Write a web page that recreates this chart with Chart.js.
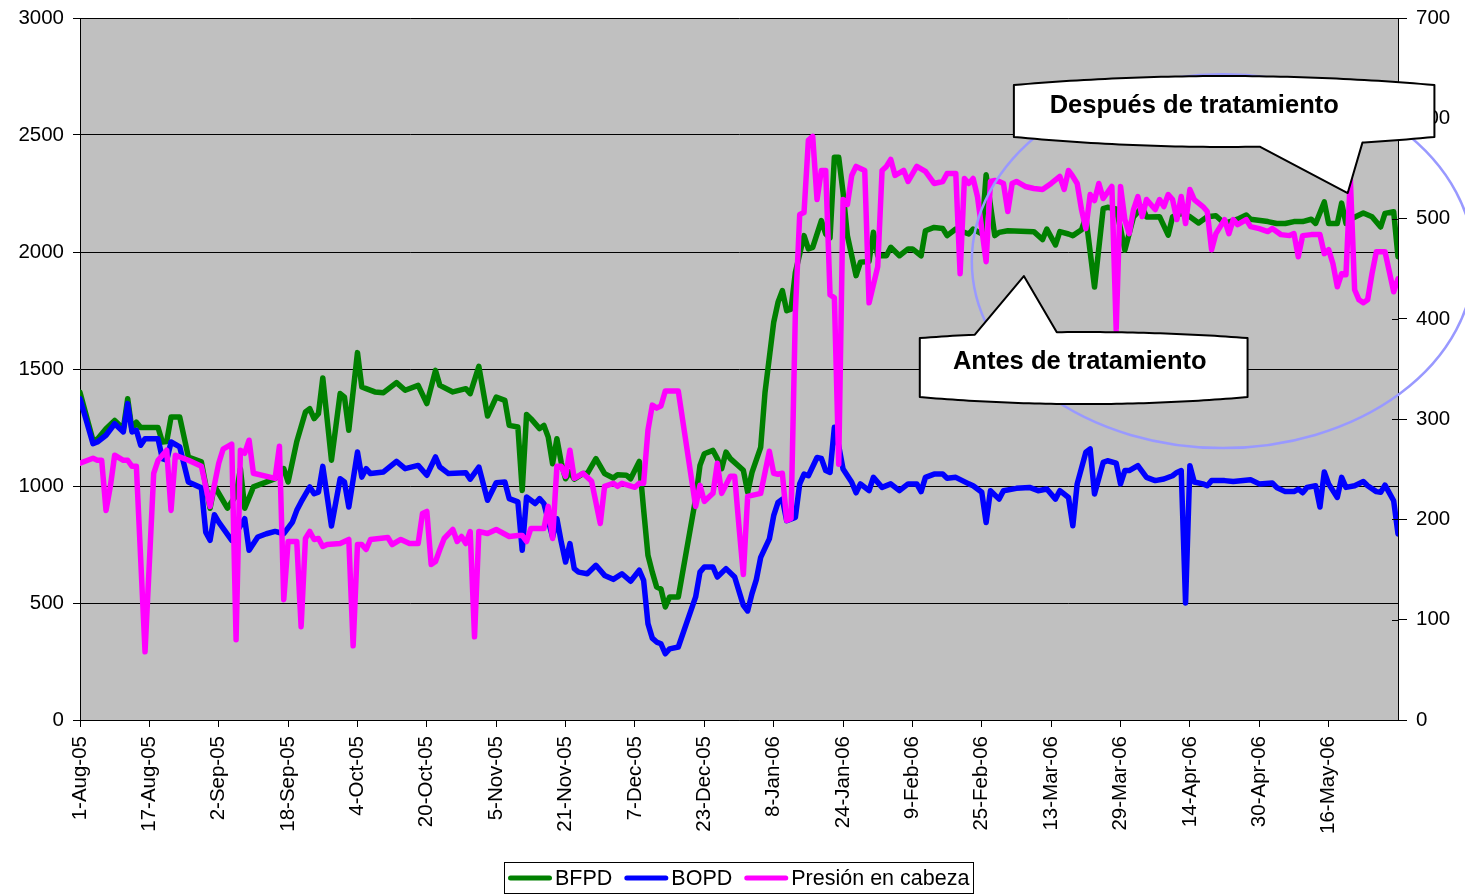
<!DOCTYPE html>
<html>
<head>
<meta charset="utf-8">
<title>BFPD, BOPD y Presión en cabeza</title>
<script src="https://cdn.jsdelivr.net/npm/chart.js@4.4.1/dist/chart.umd.min.js"></script>
<style>
  html, body { margin: 0; padding: 0; background: #ffffff; }
  #wrap { width: 1465px; height: 895px; }
</style>
</head>
<body>
<div id="wrap"><canvas id="chart" width="1465" height="895"></canvas></div>
<script>
// Date ticks, one every 16 days starting 1-Aug-05
const xTickLabels = ['1-Aug-05', '17-Aug-05', '2-Sep-05', '18-Sep-05', '4-Oct-05', '20-Oct-05',
  '5-Nov-05', '21-Nov-05', '7-Dec-05', '23-Dec-05', '8-Jan-06', '24-Jan-06', '9-Feb-06',
  '25-Feb-06', '13-Mar-06', '29-Mar-06', '14-Apr-06', '30-Apr-06', '16-May-06'];
const tickStepDays = 16;
const lastDay = 304;

// BFPD (barrels of fluid per day), days counted from 1-Aug-05
const bfpdDays = [0, 3, 4, 6, 8, 10, 11, 12, 13, 14, 18, 19, 20, 21, 23, 25, 28, 30, 31, 34,
  36, 37, 38, 40, 42, 45, 47, 48, 50, 52, 53, 54, 55, 56, 58, 60, 61, 62, 64, 65,
  66, 68, 70, 73, 75, 78, 80, 82, 83, 86, 89, 90, 92, 94, 96, 98, 99, 101, 102, 103,
  104, 106, 107, 108, 109, 110, 111, 112, 113, 114, 116, 117, 119, 121, 123, 124, 126, 127, 129, 130,
  131, 132, 133, 134, 135, 136, 138, 142, 143, 144, 146, 147, 148, 149, 150, 153, 154, 155, 157, 158,
  160, 161, 162, 163, 164, 165, 167, 168, 169, 171, 172, 173, 174, 175, 176, 177, 179, 180, 182, 183,
  184, 186, 187, 189, 191, 192, 194, 195, 197, 199, 200, 202, 205, 206, 208, 209, 211, 212, 214, 220,
  222, 223, 225, 226, 228, 229, 231, 232, 234, 236, 237, 239, 240, 241, 243, 245, 246, 249, 251, 252,
  254, 256, 258, 260, 262, 264, 267, 269, 270, 274, 276, 278, 280, 282, 284, 285, 287, 288, 290, 291,
  292, 293, 296, 298, 300, 301, 303, 304];
const bfpdValues = [1400, 1195, 1200, 1245, 1280, 1245, 1373, 1238, 1273, 1250, 1250, 1188, 1190, 1295, 1295, 1124, 1103, 905, 1000, 905,
  960, 1074, 905, 996, 1010, 1031, 1074, 1017, 1190, 1316, 1330, 1288, 1309, 1462, 1110, 1395, 1380, 1238, 1570, 1423,
  1416, 1402, 1399, 1442, 1409, 1430, 1352, 1494, 1430, 1402, 1416, 1395, 1511, 1299, 1380, 1366, 1259, 1252, 981, 1306,
  1288, 1245, 1259, 1209, 1095, 1202, 1100, 1031, 1060, 1029, 1053, 1053, 1117, 1053, 1034, 1048, 1046, 1031, 1105, 900,
  704, 632, 568, 560, 483, 526, 526, 946, 1088, 1138, 1152, 1117, 1074, 1145, 1117, 1067, 973, 1058, 1165, 1400,
  1699, 1785, 1835, 1749, 1756, 1913, 2070, 2013, 2020, 2134, 2077, 2060, 2405, 2405, 2255, 2070, 1899, 1956, 1960, 2084,
  1984, 1984, 2020, 1984, 2013, 2013, 1984, 2091, 2105, 2100, 2070, 2098, 2077, 2098, 2077, 2330, 2070, 2084, 2091, 2087,
  2053, 2098, 2030, 2087, 2077, 2070, 2095, 2150, 1850, 2185, 2191, 2184, 2100, 2008, 2150, 2192, 2150, 2151, 2072, 2150,
  2165, 2151, 2124, 2151, 2155, 2122, 2140, 2158, 2140, 2130, 2122, 2122, 2130, 2130, 2140, 2122, 2214, 2122, 2122, 2209,
  2122, 2140, 2167, 2151, 2107, 2165, 2172, 1980];

// BOPD (barrels of oil per day)
const bopdDays = [0, 3, 4, 6, 8, 10, 11, 12, 13, 14, 15, 18, 19, 20, 21, 23, 25, 28, 29, 30,
  31, 32, 35, 36, 38, 39, 41, 43, 45, 47, 49, 50, 51, 53, 54, 55, 56, 58, 60, 61,
  62, 64, 65, 66, 67, 70, 73, 75, 78, 80, 82, 83, 85, 89, 90, 92, 94, 96, 98, 99,
  101, 102, 103, 105, 106, 107, 109, 110, 111, 112, 113, 114, 115, 117, 119, 121, 123, 125, 127, 129,
  130, 131, 132, 133, 134, 135, 136, 138, 140, 142, 143, 144, 146, 147, 149, 151, 153, 154, 155, 156,
  157, 159, 160, 161, 162, 163, 165, 166, 167, 168, 170, 171, 172, 173, 174, 175, 176, 178, 179, 180,
  182, 183, 185, 187, 189, 191, 193, 194, 195, 197, 199, 200, 202, 205, 206, 208, 209, 210, 212, 213,
  216, 219, 221, 223, 225, 226, 228, 229, 230, 232, 233, 234, 236, 237, 239, 240, 241, 242, 244, 246,
  248, 250, 252, 253, 254, 255, 256, 257, 259, 260, 261, 264, 266, 270, 272, 275, 276, 278, 280, 281,
  282, 283, 285, 286, 287, 288, 290, 291, 292, 294, 296, 297, 299, 300, 301, 303, 304];
const bopdValues = [1373, 1181, 1188, 1217, 1266, 1231, 1352, 1231, 1238, 1174, 1202, 1202, 1117, 1110, 1188, 1167, 1017, 992, 803, 768,
  877, 846, 768, 800, 860, 725, 782, 796, 806, 796, 846, 896, 932, 996, 967, 974, 1084, 829, 1031, 1017,
  910, 1145, 1038, 1074, 1053, 1060, 1105, 1074, 1088, 1046, 1124, 1081, 1053, 1057, 1029, 1081, 939, 1014, 1017, 946,
  932, 725, 953, 925, 946, 925, 782, 860, 761, 675, 754, 647, 632, 625, 661, 618, 601, 625, 593, 640,
  597, 412, 350, 333, 326, 283, 304, 312, 419, 526, 632, 654, 654, 611, 647, 611, 490, 466, 540, 600,
  695, 774, 873, 930, 944, 852, 866, 1009, 1051, 1044, 1122, 1118, 1066, 1058, 1251, 1172, 1073, 1016, 971, 1009,
  980, 1037, 994, 1009, 980, 1009, 1009, 976, 1037, 1051, 1051, 1033, 1037, 1009, 1001, 973, 844, 980, 944, 980,
  990, 994, 980, 987, 944, 980, 951, 830, 1009, 1144, 1158, 966, 1101, 1108, 1098, 1009, 1066, 1066, 1087, 1037,
  1023, 1030, 1044, 1058, 1066, 500, 1087, 1017, 1009, 1001, 1023, 1023, 1019, 1027, 1009, 1013, 994, 976, 976, 987,
  971, 994, 1001, 910, 1060, 1009, 951, 1037, 994, 1001, 1019, 1001, 976, 973, 1004, 937, 795];

// Presión en cabeza (right axis)
const presionDays = [0, 3, 4, 5, 6, 7, 8, 10, 11, 12, 13, 15, 17, 18, 20, 21, 22, 25, 28, 30,
  32, 33, 35, 36, 37, 38, 39, 40, 45, 46, 47, 48, 50, 51, 52, 53, 54, 55, 56, 57,
  60, 62, 63, 64, 65, 66, 67, 69, 71, 72, 74, 76, 78, 79, 80, 81, 82, 83, 84, 86,
  87, 88, 89, 90, 91, 92, 94, 96, 99, 101, 102, 103, 104, 107, 108, 109, 110, 111, 112, 113,
  114, 116, 118, 120, 121, 123, 124, 125, 128, 129, 130, 131, 132, 133, 134, 135, 138, 142, 143, 144,
  146, 147, 148, 150, 151, 152, 153, 154, 157, 159, 160, 161, 162, 163, 164, 165, 166, 167, 168, 169,
  170, 171, 172, 173, 174, 175, 176, 177, 178, 179, 181, 182, 184, 185, 186, 187, 188, 190, 191, 193,
  195, 197, 199, 200, 202, 203, 204, 205, 206, 207, 209, 210, 211, 212, 213, 214, 215, 216, 218, 220,
  222, 224, 226, 227, 228, 229, 230, 231, 232, 233, 234, 235, 236, 238, 239, 240, 241, 242, 243, 244,
  245, 246, 248, 249, 250, 251, 252, 253, 254, 255, 256, 257, 259, 260, 261, 262, 264, 265, 266, 267,
  269, 270, 272, 274, 275, 277, 279, 280, 281, 282, 284, 286, 287, 288, 289, 290, 291, 292, 293, 294,
  295, 296, 297, 298, 299, 301, 303, 304];
const presionValues = [256, 261, 259, 259, 209, 233, 264, 259, 259, 253, 253, 68, 246, 259, 269, 209, 264, 259, 253, 213,
  256, 270, 275, 80, 269, 266, 279, 246, 241, 273, 120, 178, 178, 93, 181, 188, 180, 181, 173, 175,
  176, 180, 74, 175, 175, 170, 180, 181, 182, 175, 180, 176, 176, 206, 208, 155, 158, 170, 181, 190,
  178, 183, 176, 188, 83, 188, 186, 190, 183, 184, 184, 178, 191, 191, 213, 181, 253, 253, 243, 269,
  241, 246, 238, 196, 233, 236, 233, 236, 232, 236, 236, 289, 314, 311, 313, 328, 328, 213, 234, 218,
  226, 256, 226, 243, 243, 193, 145, 223, 226, 268, 246, 245, 246, 199, 201, 406, 504, 506, 578, 582,
  519, 548, 548, 424, 421, 255, 519, 514, 543, 552, 548, 416, 452, 548, 552, 559, 543, 548, 537, 552,
  547, 535, 537, 545, 545, 445, 540, 535, 540, 522, 457, 537, 538, 537, 535, 507, 535, 537, 532, 530,
  529, 535, 542, 529, 548, 542, 535, 509, 490, 524, 518, 535, 520, 532, 389, 532, 499, 485, 509, 522,
  502, 519, 509, 519, 512, 524, 519, 499, 522, 495, 529, 519, 512, 507, 469, 485, 499, 485, 499, 494,
  499, 492, 490, 487, 490, 484, 483, 485, 462, 483, 484, 484, 465, 469, 455, 432, 445, 444, 540, 429,
  419, 416, 419, 445, 467, 467, 427, 440];

const seriesNames = ['BFPD', 'BOPD', 'Presión en cabeza'];
const seriesColors = ['#008000', '#0000ff', '#ff00ff'];
const noteAfter = 'Después de tratamiento';
const noteBefore = 'Antes de tratamiento';

const FONT_FAMILY = 'Arial, "Liberation Sans", Helvetica, sans-serif';
const toPoints = (days, values) => days.map((d, i) => ({ x: d, y: values[i] }));

// Plot background, right-axis inner tick marks, highlight ellipse, callouts and legend
const decorations = {
  id: 'decorations',
  beforeDraw(chart) {
    const { ctx, chartArea: a } = chart;
    ctx.save();
    ctx.fillStyle = '#ffffff';
    ctx.fillRect(0, 0, chart.width, chart.height);
    ctx.fillStyle = '#c0c0c0';
    ctx.fillRect(a.left, a.top, a.right - a.left, a.bottom - a.top);
    ctx.restore();
  },
  afterDatasetsDraw(chart) {
    const { ctx, chartArea: a, scales } = chart;
    const xs = scales.x, ys = scales.y;
    ctx.save();
    // short tick marks inside the plot on the right axis
    ctx.strokeStyle = '#000';
    ctx.lineWidth = 1;
    scales.y1.ticks.forEach(t => {
      const y = Math.round(scales.y1.getPixelForValue(t.value)) + 0.5;
      ctx.beginPath();
      ctx.moveTo(a.right - 6, y);
      ctx.lineTo(a.right, y);
      ctx.stroke();
    });
    // ellipse around the post-treatment period
    const cx = xs.getPixelForValue(263.6), cy = ys.getPixelForValue(1961);
    const rx = xs.getPixelForValue(263.6 + 57.9) - cx;
    const ry = ys.getPixelForValue(1961 - 799) - cy;
    ctx.strokeStyle = '#9999ff';
    ctx.lineWidth = 2.5;
    ctx.beginPath();
    ctx.ellipse(cx, cy, rx, ry, 0, 0, Math.PI * 2);
    ctx.stroke();
    ctx.restore();
  },
  afterDraw(chart) {
    const { ctx, scales } = chart;
    const xs = scales.x, ys = scales.y;
    const X = d => xs.getPixelForValue(d);
    const Y = v => ys.getPixelForValue(v);

    drawCallout(ctx, {
      x0: X(215.4), x1: X(312.4), y0: Y(2752), y1: Y(2449), bulgeTop: 9, bulgeBottom: 10,
      pointer: { edge: 'bottom', a: X(272.1), b: X(295.8), tipX: X(292.4), tipY: Y(2252) },
      text: noteAfter, tx: X(257.0), ty: Y(2624)
    });
    drawCallout(ctx, {
      x0: X(193.7), x1: X(269.3), y0: Y(1658), y1: Y(1350), bulgeTop: 6, bulgeBottom: 7,
      pointer: { edge: 'top', a: X(206.4), b: X(225.3), tipX: X(217.7), tipY: Y(1897) },
      text: noteBefore, tx: X(230.6), ty: Y(1530)
    });
    drawLegend(chart);
  }
};

function drawCallout(ctx, o) {
  const N = 60;
  const topY = x => { const t = (x - o.x0) / (o.x1 - o.x0); return o.y0 + o.bulgeTop - 4 * o.bulgeTop * t * (1 - t); };
  const botY = x => { const t = (x - o.x0) / (o.x1 - o.x0); return o.y1 - o.bulgeBottom + 4 * o.bulgeBottom * t * (1 - t); };
  const p = o.pointer;
  const pts = [];
  // top edge, left to right
  for (let i = 0; i <= N; i++) {
    const x = o.x0 + (o.x1 - o.x0) * i / N;
    if (p.edge === 'top' && x > p.a && x < p.b) continue;
    if (p.edge === 'top' && pts.length && pts[pts.length - 1][0] <= p.a && x >= p.b) {
      pts.push([p.a, topY(p.a)], [p.tipX, p.tipY], [p.b, topY(p.b)]);
    }
    pts.push([x, topY(x)]);
  }
  // bottom edge, right to left
  for (let i = N; i >= 0; i--) {
    const x = o.x0 + (o.x1 - o.x0) * i / N;
    if (p.edge === 'bottom' && x > p.a && x < p.b) continue;
    if (p.edge === 'bottom' && pts.length && pts[pts.length - 1][0] >= p.b && x <= p.a) {
      pts.push([p.b, botY(p.b)], [p.tipX, p.tipY], [p.a, botY(p.a)]);
    }
    pts.push([x, botY(x)]);
  }
  ctx.save();
  ctx.beginPath();
  pts.forEach(([x, y], i) => (i ? ctx.lineTo(x, y) : ctx.moveTo(x, y)));
  ctx.closePath();
  ctx.fillStyle = '#ffffff';
  ctx.fill();
  ctx.lineWidth = 2;
  ctx.lineJoin = 'round';
  ctx.strokeStyle = '#000000';
  ctx.stroke();
  ctx.fillStyle = '#000000';
  ctx.font = 'bold 25.5px ' + FONT_FAMILY;
  ctx.textAlign = 'center';
  ctx.textBaseline = 'middle';
  ctx.fillText(o.text, o.tx, o.ty);
  ctx.restore();
}

function drawLegend(chart) {
  const { ctx, chartArea: a } = chart;
  ctx.save();
  ctx.font = '21.5px ' + FONT_FAMILY;
  const items = chart.data.datasets.map(ds => ({
    label: ds.label, color: ds.borderColor, w: ctx.measureText(ds.label).width
  }));
  const lineLen = 44, gap = 3, itemGap = 12, padX = 4, h = 31;
  const total = items.reduce((s, it) => s + lineLen + gap + it.w, 0) + itemGap * (items.length - 1) + 2 * padX;
  const left = Math.round((a.left + a.right) / 2 - total / 2);
  const top = chart.height - 33;
  ctx.fillStyle = '#ffffff';
  ctx.fillRect(left, top, total, h);
  ctx.strokeStyle = '#000000';
  ctx.lineWidth = 1;
  ctx.strokeRect(left + 0.5, top + 0.5, Math.round(total), h);
  let x = left + padX;
  const cy = top + h / 2 + 0.5;
  items.forEach(it => {
    ctx.strokeStyle = it.color;
    ctx.lineWidth = 5;
    ctx.lineCap = 'round';
    ctx.beginPath();
    ctx.moveTo(x + 2.5, cy);
    ctx.lineTo(x + lineLen - 2.5, cy);
    ctx.stroke();
    x += lineLen + gap;
    ctx.fillStyle = '#000000';
    ctx.textAlign = 'left';
    ctx.textBaseline = 'middle';
    ctx.fillText(it.label, x, cy + 1);
    x += it.w + itemGap;
  });
  ctx.restore();
}

const lineStyle = (i) => ({
  label: seriesNames[i],
  borderColor: seriesColors[i],
  backgroundColor: seriesColors[i],
  borderWidth: 5.5,
  pointRadius: 0,
  pointHoverRadius: 0,
  tension: 0,
  fill: false,
  borderJoinStyle: 'round',
  borderCapStyle: 'round'
});

const tickFont = { family: FONT_FAMILY, size: 20.5 };

// vertical axes: fixed width, and keep their label overhang from pushing the plot down
const fitVertical = (width) => (s) => {
  s.width = width;
  s.paddingTop = 10;
  s.paddingBottom = 10;
};

new Chart(document.getElementById('chart'), {
  type: 'line',
  data: {
    datasets: [
      { ...lineStyle(0), data: toPoints(bfpdDays, bfpdValues), yAxisID: 'y', order: 3 },
      { ...lineStyle(1), data: toPoints(bopdDays, bopdValues), yAxisID: 'y', order: 2 },
      { ...lineStyle(2), data: toPoints(presionDays, presionValues), yAxisID: 'y1', order: 1 }
    ]
  },
  options: {
    responsive: false,
    animation: false,
    devicePixelRatio: 1,
    events: [],
    layout: { padding: { top: 18, bottom: 55, left: 0, right: 0 } },
    plugins: {
      legend: { display: false },
      tooltip: { enabled: false }
    },
    scales: {
      x: {
        type: 'linear',
        min: 0,
        max: lastDay,
        afterBuildTicks: s => { s.ticks = xTickLabels.map((_, i) => ({ value: i * tickStepDays })); },
        afterFit: s => { s.height = 120; },
        ticks: {
          autoSkip: false,
          minRotation: 90,
          maxRotation: 90,
          padding: 9,
          color: '#000',
          font: tickFont,
          callback: (v, i) => xTickLabels[i]
        },
        grid: { drawOnChartArea: false, color: '#000', tickLength: 7 },
        border: { color: '#000', width: 1 }
      },
      y: {
        position: 'left',
        min: 0,
        max: 3000,
        afterFit: fitVertical(80),
        ticks: { stepSize: 500, padding: 9, color: '#000', font: tickFont, callback: v => String(v) },
        grid: { color: '#000', lineWidth: 1, tickLength: 7 },
        border: { color: '#000', width: 1 }
      },
      y1: {
        position: 'right',
        min: 0,
        max: 700,
        afterFit: fitVertical(67),
        ticks: { stepSize: 100, padding: 9, color: '#000', font: tickFont, callback: v => String(v) },
        grid: { drawOnChartArea: false, color: '#000', tickLength: 9 },
        border: { color: '#000', width: 1 }
      }
    }
  },
  plugins: [decorations]
});
</script>
</body>
</html>
